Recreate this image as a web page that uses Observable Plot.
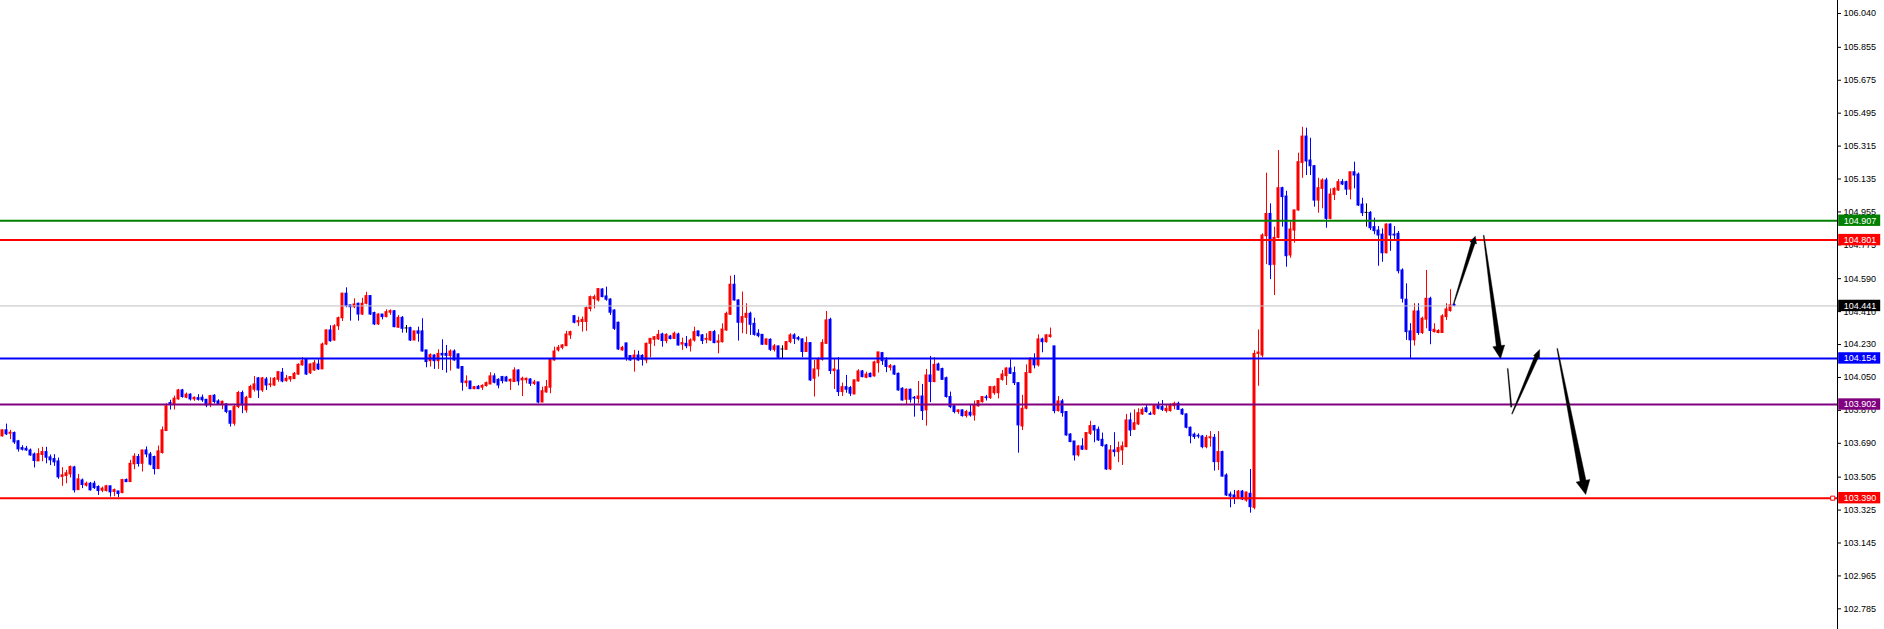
<!DOCTYPE html>
<html><head><meta charset="utf-8">
<script src="https://cdn.jsdelivr.net/npm/d3@7"></script>
<script src="https://cdn.jsdelivr.net/npm/@observablehq/plot@0.6"></script>
<style>
html,body{margin:0;padding:0;background:#fff;}
#chart svg{display:block;}
</style></head><body><div id="chart"></div>
<script>
const open = [
103.728,103.761,103.742,103.746,103.701,103.664,103.660,103.651,103.629,103.591,
103.626,103.642,103.613,103.604,103.591,103.506,103.511,103.520,103.558,103.434,
103.487,103.458,103.469,103.469,103.451,103.431,103.429,103.455,103.424,103.427,
103.418,103.489,103.478,103.575,103.615,103.578,103.651,103.629,103.615,103.549,
103.637,103.757,103.910,103.903,103.930,103.979,103.939,103.956,103.930,103.937,
103.939,103.928,103.901,103.950,103.919,103.899,103.903,103.865,103.797,103.888,
103.965,103.870,103.939,103.983,104.045,103.979,104.039,104.008,104.006,104.037,
104.076,104.030,104.039,104.041,104.066,104.116,104.148,104.073,104.088,104.121,
104.094,104.230,104.307,104.252,104.330,104.374,104.508,104.444,104.434,104.453,
104.394,104.453,104.495,104.402,104.340,104.394,104.380,104.404,104.412,104.322,
104.376,104.318,104.320,104.252,104.302,104.302,104.198,104.139,104.170,104.139,
104.179,104.179,104.167,104.192,104.176,104.107,104.019,104.028,103.986,103.999,
103.994,104.003,104.012,104.056,104.037,104.052,104.050,104.028,104.025,104.088,
104.034,104.035,104.039,104.015,104.023,103.913,103.968,103.994,104.143,104.198,
104.212,104.221,104.280,104.385,104.351,104.353,104.353,104.424,104.478,104.471,
104.531,104.493,104.476,104.416,104.349,104.198,104.236,104.167,104.152,104.170,
104.168,104.143,104.234,104.256,104.258,104.285,104.249,104.274,104.261,104.285,
104.230,104.234,104.221,104.252,104.302,104.280,104.256,104.252,104.298,104.240,
104.243,104.307,104.393,104.557,104.471,104.349,104.376,104.398,104.343,104.289,
104.283,104.229,104.256,104.201,104.220,104.203,104.201,104.243,104.280,104.265,
104.258,104.189,104.238,104.043,104.094,104.147,104.234,104.365,104.085,104.088,
103.970,103.997,103.992,103.957,104.028,104.083,104.048,104.070,104.056,104.128,
104.183,104.143,104.103,104.110,104.070,103.988,103.928,103.983,103.939,103.932,
103.946,103.870,104.061,104.025,104.121,104.096,104.046,103.943,103.892,103.861,
103.870,103.839,103.857,103.842,103.892,103.915,103.941,103.937,103.964,103.964,
104.037,104.057,104.099,104.074,104.019,103.782,103.879,104.074,104.152,104.116,
104.258,104.243,104.271,104.220,103.866,103.919,103.861,103.738,103.700,103.624,
103.673,103.655,103.742,103.784,103.764,103.709,103.678,103.547,103.651,103.642,
103.651,103.669,103.815,103.764,103.793,103.848,103.882,103.850,103.848,103.897,
103.888,103.866,103.866,103.893,103.906,103.873,103.848,103.775,103.737,103.731,
103.727,103.669,103.718,103.720,103.587,103.642,103.514,103.410,103.405,103.386,
103.426,103.377,103.414,103.337,104.179,104.170,104.822,104.944,104.666,104.813,
105.085,105.039,104.717,104.853,104.963,105.223,105.367,105.236,105.205,105.017,
105.081,105.127,104.917,105.048,105.072,105.118,105.118,105.077,105.172,105.159,
104.995,104.950,104.950,104.872,104.853,104.831,104.729,104.886,104.831,104.835,
104.635,104.475,104.302,104.253,104.411,104.293,104.366,104.480,104.298,104.293,
104.293,104.380,104.413,104.447];

const high = [
103.764,103.795,103.761,103.752,103.706,103.677,103.673,103.659,103.637,103.660,
103.668,103.668,103.626,103.628,103.609,103.557,103.542,103.566,103.564,103.520,
103.495,103.478,103.476,103.482,103.458,103.451,103.460,103.455,103.440,103.427,
103.493,103.495,103.597,103.633,103.629,103.651,103.670,103.640,103.620,103.675,
103.779,103.906,103.925,103.948,103.985,103.985,103.965,103.961,103.943,103.956,
103.954,103.930,103.952,103.956,103.928,103.921,103.906,103.866,103.897,103.974,
103.976,103.947,104.007,104.055,104.050,104.050,104.050,104.048,104.050,104.083,
104.099,104.061,104.055,104.077,104.125,104.158,104.148,104.125,104.143,104.147,
104.238,104.311,104.333,104.338,104.380,104.511,104.540,104.444,104.480,104.456,
104.483,104.516,104.495,104.407,104.398,104.394,104.420,104.420,104.416,104.389,
104.383,104.334,104.325,104.302,104.325,104.371,104.198,104.179,104.174,104.201,
104.256,104.225,104.201,104.201,104.179,104.110,104.059,104.028,104.001,104.006,
104.010,104.025,104.076,104.070,104.043,104.056,104.056,104.041,104.103,104.092,
104.052,104.046,104.043,104.034,104.023,103.997,104.034,104.152,104.216,104.225,
104.230,104.302,104.303,104.389,104.380,104.380,104.435,104.495,104.500,104.535,
104.535,104.544,104.480,104.420,104.353,104.220,104.238,104.170,104.198,104.194,
104.174,104.238,104.261,104.274,104.307,104.292,104.289,104.280,104.298,104.292,
104.265,104.274,104.261,104.325,104.302,104.285,104.289,104.302,104.307,104.283,
104.343,104.407,104.604,104.608,104.475,104.517,104.453,104.407,104.374,104.311,
104.283,104.261,104.261,104.230,104.220,104.223,104.247,104.289,104.289,104.274,
104.261,104.271,104.238,104.143,104.158,104.256,104.411,104.374,104.152,104.158,
104.019,104.061,104.001,104.037,104.092,104.088,104.079,104.074,104.139,104.187,
104.187,104.158,104.121,104.116,104.074,103.994,103.988,103.986,103.946,104.028,
104.012,104.094,104.165,104.158,104.128,104.101,104.052,103.970,103.897,103.873,
103.873,103.870,103.897,103.921,103.924,103.946,103.952,104.001,104.003,104.043,
104.088,104.103,104.147,104.107,104.019,103.952,104.119,104.158,104.179,104.283,
104.265,104.285,104.320,104.220,103.946,103.930,103.864,103.742,103.700,103.678,
103.715,103.748,103.810,103.788,103.779,103.746,103.684,103.678,103.748,103.697,
103.697,103.848,103.855,103.873,103.879,103.884,103.897,103.861,103.901,103.915,
103.924,103.897,103.906,103.915,103.915,103.879,103.851,103.779,103.746,103.742,
103.733,103.733,103.754,103.738,103.754,103.647,103.523,103.423,103.432,103.432,
103.432,103.423,103.547,104.197,104.310,104.835,105.167,104.999,104.872,105.291,
105.090,105.068,104.899,104.966,105.276,105.418,105.413,105.358,105.209,105.139,
105.136,105.139,105.081,105.087,105.132,105.132,105.123,105.172,105.227,105.168,
105.030,104.999,104.957,104.921,104.875,104.862,104.890,104.890,104.875,104.848,
104.644,104.562,104.344,104.453,104.453,104.380,104.635,104.489,104.344,104.311,
104.393,104.453,104.530,104.452];

const low = [
103.724,103.733,103.710,103.684,103.642,103.648,103.646,103.619,103.555,103.591,
103.589,103.578,103.568,103.564,103.493,103.455,103.469,103.500,103.418,103.433,
103.442,103.451,103.429,103.438,103.405,103.420,103.424,103.396,103.398,103.394,
103.414,103.475,103.478,103.546,103.560,103.533,103.611,103.566,103.517,103.549,
103.631,103.757,103.872,103.872,103.925,103.937,103.934,103.921,103.919,103.921,
103.914,103.885,103.885,103.906,103.899,103.874,103.852,103.779,103.784,103.879,
103.852,103.855,103.934,103.970,103.935,103.968,103.979,103.994,104.001,104.024,
104.021,104.024,104.024,104.039,104.061,104.112,104.061,104.066,104.084,104.088,
104.094,104.225,104.243,104.248,104.307,104.356,104.431,104.358,104.426,104.358,
104.389,104.447,104.389,104.334,104.334,104.365,104.376,104.389,104.322,104.318,
104.292,104.292,104.247,104.252,104.243,104.189,104.103,104.107,104.094,104.094,
104.088,104.074,104.085,104.139,104.096,103.975,103.997,103.984,103.983,103.984,
103.979,103.997,104.010,104.015,103.988,104.015,104.025,103.979,104.023,104.004,
103.946,104.015,104.001,104.006,103.906,103.913,103.964,103.961,104.139,104.189,
104.201,104.220,104.258,104.343,104.329,104.298,104.302,104.409,104.425,104.462,
104.486,104.467,104.389,104.307,104.198,104.194,104.139,104.139,104.079,104.139,
104.112,104.125,104.158,104.220,104.252,104.216,104.234,104.256,104.258,104.221,
104.198,104.207,104.189,104.243,104.271,104.230,104.234,104.247,104.234,104.179,
104.238,104.302,104.389,104.467,104.249,104.289,104.285,104.280,104.276,104.267,
104.225,104.225,104.192,104.189,104.152,104.154,104.198,104.234,104.230,104.249,
104.158,104.187,104.028,103.943,104.052,104.139,104.230,104.066,103.984,103.946,
103.946,103.964,103.946,103.957,104.025,104.048,104.043,104.048,104.052,104.074,
104.116,104.076,104.085,104.061,103.975,103.921,103.901,103.910,103.833,103.906,
103.815,103.784,103.912,104.021,104.085,104.034,103.937,103.879,103.851,103.848,
103.833,103.828,103.833,103.811,103.888,103.910,103.921,103.930,103.952,103.933,
104.030,104.006,104.066,104.006,103.636,103.760,103.873,104.070,104.097,104.107,
104.185,104.238,104.265,103.851,103.861,103.833,103.729,103.693,103.593,103.615,
103.651,103.651,103.733,103.693,103.700,103.669,103.542,103.542,103.615,103.584,
103.569,103.666,103.727,103.760,103.788,103.842,103.855,103.842,103.842,103.873,
103.864,103.855,103.861,103.873,103.870,103.842,103.769,103.687,103.711,103.715,
103.660,103.660,103.669,103.538,103.541,103.505,103.399,103.337,103.355,103.383,
103.377,103.368,103.308,103.326,104.002,104.157,104.667,104.585,104.498,104.808,
104.872,104.653,104.702,104.784,104.959,105.139,105.154,105.154,104.981,104.948,
104.972,104.866,104.912,105.017,105.067,105.099,105.045,105.021,105.081,104.985,
104.930,104.872,104.853,104.830,104.658,104.680,104.726,104.740,104.799,104.616,
104.457,104.253,104.152,104.222,104.280,104.285,104.316,104.229,104.293,104.289,
104.293,104.362,104.407,104.436];

const close = [
103.761,103.739,103.748,103.695,103.657,103.655,103.651,103.624,103.593,103.631,
103.642,103.611,103.597,103.586,103.504,103.515,103.526,103.560,103.433,103.493,
103.462,103.469,103.433,103.445,103.429,103.442,103.455,103.422,103.434,103.413,
103.489,103.478,103.578,103.617,103.577,103.651,103.629,103.573,103.549,103.646,
103.761,103.892,103.901,103.934,103.979,103.943,103.956,103.930,103.939,103.928,
103.925,103.897,103.948,103.916,103.903,103.917,103.861,103.797,103.888,103.965,
103.897,103.939,103.998,104.012,103.979,104.045,104.006,104.012,104.043,104.079,
104.028,104.043,104.052,104.070,104.119,104.139,104.066,104.121,104.128,104.094,
104.230,104.307,104.248,104.330,104.374,104.508,104.440,104.434,104.449,104.394,
104.453,104.495,104.394,104.340,104.394,104.380,104.407,104.412,104.325,104.376,
104.316,104.318,104.252,104.302,104.289,104.192,104.134,104.172,104.139,104.179,
104.170,104.168,104.192,104.143,104.099,104.021,104.028,103.986,103.997,103.986,
104.004,104.019,104.056,104.021,104.006,104.030,104.028,104.037,104.088,104.028,
104.043,104.043,104.015,104.023,103.913,103.975,103.997,104.147,104.192,104.212,
104.225,104.285,104.298,104.349,104.358,104.365,104.429,104.489,104.489,104.533,
104.489,104.475,104.404,104.316,104.203,104.212,104.158,104.143,104.170,104.143,
104.147,104.234,104.261,104.270,104.283,104.249,104.283,104.260,104.289,104.225,
104.238,104.221,104.252,104.298,104.276,104.249,104.261,104.298,104.238,104.247,
104.312,104.398,104.557,104.471,104.349,104.380,104.398,104.338,104.283,104.276,
104.229,104.258,104.201,104.220,104.158,104.203,104.243,104.280,104.261,104.258,
104.189,104.238,104.034,104.094,104.147,104.238,104.362,104.085,104.094,103.970,
103.997,103.983,103.961,104.034,104.083,104.052,104.066,104.052,104.132,104.187,
104.139,104.107,104.112,104.066,103.979,103.924,103.983,103.928,103.935,103.946,
103.866,104.061,104.025,104.119,104.088,104.037,103.943,103.888,103.861,103.870,
103.839,103.861,103.842,103.897,103.921,103.943,103.937,103.997,103.997,104.041,
104.066,104.099,104.070,104.019,103.788,103.879,104.074,104.152,104.116,104.258,
104.243,104.280,104.280,103.866,103.919,103.855,103.733,103.697,103.624,103.673,
103.655,103.746,103.784,103.760,103.706,103.675,103.547,103.651,103.642,103.664,
103.673,103.815,103.760,103.800,103.855,103.873,103.861,103.846,103.897,103.879,
103.873,103.879,103.897,103.906,103.873,103.848,103.775,103.729,103.724,103.727,
103.669,103.720,103.723,103.587,103.642,103.508,103.405,103.399,103.392,103.426,
103.383,103.421,103.341,104.179,104.186,104.826,104.944,104.664,104.813,105.085,
105.036,104.713,104.859,104.963,105.227,105.367,105.231,105.205,105.017,105.085,
105.127,104.917,105.050,105.081,105.118,105.105,105.077,105.172,105.154,104.990,
104.948,104.950,104.866,104.850,104.826,104.729,104.886,104.826,104.826,104.631,
104.480,104.298,104.253,104.411,104.293,104.371,104.480,104.304,104.311,104.304,
104.384,104.422,104.444,104.441];

// Horizontal levels drawn on the chart
const levelValues = [104.907, 104.801, 104.441, 104.154, 103.902, 103.390];
const levelColors = ["#008000", "#ff0000", "#c0c0c0", "#0000ff", "#800080", "#ff0000"];
const tagColors   = ["#008000", "#ff0000", "#000000", "#0000ff", "#800080", "#ff0000"];

// Right axis tick labels
const tickValues = [106.040, 105.855, 105.675, 105.495, 105.315, 105.135, 104.955, 104.775,
  104.590, 104.410, 104.230, 104.050, 103.870, 103.690, 103.505, 103.325, 103.145, 102.965, 102.785];

// Projection arrows (bar index, price)
const arrowX1 = [362.8, 370.3, 376.3, 377.4, 388.7];
const arrowY1 = [104.453, 104.826, 104.098, 103.852, 104.207];
const arrowX2 = [368.2, 374.5, 377.2, 384.3, 395.8];
const arrowY2 = [104.822, 104.152, 103.888, 104.203, 103.410];

// ---- layout ----
const W = 1884, H = 629, axisX = 1837;
const xDomain = [-0.5, 458.75];
const yDomain = [102.672, 106.111];
const kx = axisX / (xDomain[1] - xDomain[0]);
const ky = H / (yDomain[1] - yDomain[0]);

// arrow shapes: [tail half width, shaft half width near head, head length, head half width] in px
const arrowShape = [[0.4, 2, 7, 3.5], [0.4, 2.5, 13, 6], [0.4, 0.6, 0, 0], [0.4, 2, 8, 3.2], [0.4, 3, 14, 7]];

const candles = open.map((o, i) => ({i, o, h: high[i], l: low[i], c: close[i],
  col: close[i] > o ? "#ff0000" : close[i] < o ? "#0000ff" : "#000000"}));

const arrowPts = [];
arrowX1.forEach((_, k) => {
  const [w0, w1, hl, hw] = arrowShape[k];
  const X1 = arrowX1[k] * kx, Y1 = -arrowY1[k] * ky, X2 = arrowX2[k] * kx, Y2 = -arrowY2[k] * ky;
  const dx = X2 - X1, dy = Y2 - Y1, len = Math.hypot(dx, dy);
  const ux = dx / len, uy = dy / len, nx = -uy, ny = ux;
  const bx = X2 - ux * hl, by = Y2 - uy * hl;
  let pts;
  if (hl > 0) {
    pts = [[X1 + nx * w0, Y1 + ny * w0], [bx + nx * w1, by + ny * w1], [bx + nx * hw, by + ny * hw], [X2, Y2],
           [bx - nx * hw, by - ny * hw], [bx - nx * w1, by - ny * w1], [X1 - nx * w0, Y1 - ny * w0]];
  } else {
    pts = [[X1 + nx * w0, Y1 + ny * w0], [X2 + nx * w1, Y2 + ny * w1], [X2 - nx * w1, Y2 - ny * w1], [X1 - nx * w0, Y1 - ny * w0]];
  }
  pts.forEach(([X, Y]) => arrowPts.push({k, x: X / kx, y: -Y / ky}));
});

const levels = levelValues.map((v, i) => ({v, col: levelColors[i], tag: tagColors[i], w: levelColors[i] === "#c0c0c0" ? 1 : 2}));
const tagH = 5.7 / ky;

const chart = Plot.plot({
  width: W, height: H,
  marginLeft: 0, marginRight: W - axisX, marginTop: 0, marginBottom: 0,
  x: {domain: xDomain, axis: null},
  y: {domain: yDomain, axis: null},
  color: {type: "identity"},
  style: {fontFamily: "'Liberation Sans', Arial, sans-serif", fontSize: "9px", background: "#ffffff", color: "#000"},
  marks: [
    Plot.ruleX(candles, {x: "i", y1: "l", y2: "h", stroke: "col", strokeWidth: 1}),
    Plot.rect(candles, {x1: d => d.i - 0.375, x2: d => d.i + 0.375,
      y1: d => Math.min(d.o, d.c), y2: d => Math.max(d.o, d.c), fill: "col", insetTop: -0.5, insetBottom: -0.5}),
    Plot.ruleY(levels, {y: "v", stroke: "col", strokeWidth: "w"}),
    Plot.dot([levelValues[5]], {x: () => xDomain[1] - 1.2, y: d => d, symbol: "square", r: 2.3, stroke: "#ff0000", fill: "#ffffff", strokeWidth: 1}),
    Plot.line(arrowPts, {x: "x", y: "y", z: "k", fill: "#000000", stroke: "#000000", strokeWidth: 0.4, curve: "linear-closed"}),
    Plot.ruleX([xDomain[1]], {stroke: "#000000", strokeWidth: 1}),
    Plot.axisY(tickValues, {anchor: "right", ticks: tickValues, tickSize: 3, tickPadding: 3,
      tickFormat: d => d.toFixed(3), label: null, fill: "#000", stroke: "#000"}),
    Plot.rect(levels, {x1: () => xDomain[1] + 0.3, x2: () => xDomain[1] + 10.8,
      y1: d => d.v - tagH, y2: d => d.v + tagH, fill: "tag"}),
    Plot.text(levels, {x: () => xDomain[1] + 1.55, y: "v", text: d => d.v.toFixed(3), fill: "#ffffff", textAnchor: "start"})
  ]
});
document.getElementById("chart").appendChild(chart);
</script>
</body></html>
